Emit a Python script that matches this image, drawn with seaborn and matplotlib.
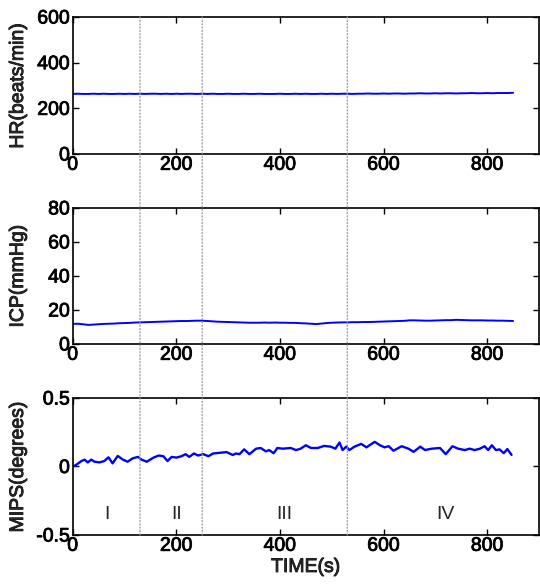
import matplotlib
matplotlib.use("Agg")
import matplotlib.pyplot as plt
from matplotlib.patches import ConnectionPatch
import matplotlib.patheffects as pe
import seaborn as sns
import pandas as pd

# ---------------- data ----------------
time_grid = list(range(0, 851, 10))

hr_values = [263, 264, 263, 263, 264, 263, 264, 263, 263, 264,
             263, 264, 263, 264, 263, 264, 264, 263, 264, 263,
             264, 263, 264, 264, 263, 264, 263, 264, 263, 263,
             264, 263, 263, 264, 263, 263, 264, 263, 263, 263,
             264, 263, 263, 264, 263, 264, 263, 263, 264, 263,
             264, 263, 264, 264, 263, 264, 264, 265, 264, 264,
             265, 264, 265, 265, 264, 265, 265, 266, 265, 265,
             266, 265, 266, 266, 265, 266, 266, 267, 266, 266,
             267, 266, 267, 267, 267, 268]

icp_values = [11.8, 11.9, 11.6, 11.2, 11.4, 11.6, 11.8, 11.9, 12.0, 12.2,
              12.3, 12.4, 12.6, 12.7, 12.8, 12.9, 13.0, 13.1, 13.2, 13.3,
              13.4, 13.5, 13.5, 13.6, 13.7, 13.7, 13.5, 13.3, 13.1, 13.0,
              12.9, 12.8, 12.7, 12.6, 12.5, 12.5, 12.5, 12.6, 12.5, 12.6,
              12.5, 12.5, 12.4, 12.4, 12.2, 12.1, 11.9, 11.7, 12.0, 12.3,
              12.5, 12.6, 12.7, 12.7, 12.8, 12.8, 12.9, 12.9, 13.0, 13.1,
              13.2, 13.3, 13.4, 13.5, 13.6, 13.9, 13.9, 13.8, 13.7, 13.7,
              13.8, 13.9, 14.0, 14.0, 14.2, 14.1, 14.0, 13.9, 13.9, 13.9,
              13.8, 13.8, 13.7, 13.7, 13.6, 13.5]

mips_time = [0, 6, 17, 23, 29, 36, 42, 52, 61, 69,
             77, 87, 97, 106, 116, 126, 133, 143, 156, 166,
             175, 183, 191, 200, 210, 218, 225, 234, 242, 252,
             262, 271, 284, 297, 309, 315, 322, 331, 341, 354,
             363, 373, 379, 388, 395, 405, 421, 431, 440, 450,
             460, 473, 485, 498, 507, 515, 521, 528, 534, 544,
             557, 567, 583, 593, 602, 610, 619, 635, 648, 658,
             671, 680, 693, 709, 720, 733, 744, 757, 766, 776,
             786, 795, 802, 809, 817, 824, 832, 839, 847]
mips_values = [0.0, 0.01, 0.04, 0.05, 0.03, 0.05, 0.035, 0.03, 0.04, 0.067,
               0.023, 0.077, 0.05, 0.035, 0.06, 0.07, 0.05, 0.035, 0.065, 0.08,
               0.075, 0.04, 0.07, 0.065, 0.075, 0.09, 0.07, 0.095, 0.08, 0.09,
               0.075, 0.095, 0.1, 0.105, 0.084, 0.095, 0.09, 0.125, 0.09, 0.13,
               0.135, 0.11, 0.12, 0.097, 0.135, 0.13, 0.135, 0.12, 0.13, 0.155,
               0.135, 0.135, 0.15, 0.145, 0.13, 0.175, 0.12, 0.145, 0.12, 0.145,
               0.165, 0.14, 0.18, 0.155, 0.14, 0.148, 0.115, 0.148, 0.13, 0.107,
               0.145, 0.12, 0.13, 0.135, 0.09, 0.148, 0.13, 0.12, 0.13, 0.12,
               0.13, 0.148, 0.12, 0.155, 0.12, 0.125, 0.097, 0.127, 0.085]

phase_boundaries = [130, 250, 530]
phase_labels = ["I", "II", "III", "IV"]
phase_label_x = [66, 200, 408, 719]
phase_label_y = -0.35

x_ticks = [0, 200, 400, 600, 800]
hr_ticks = [0, 200, 400, 600]
icp_ticks = [0, 20, 40, 60, 80]
mips_ticks = [-0.5, 0, 0.5]
mips_ticklabels = ["-0.5", "0", "0.5"]

# ---------------- style ----------------
sns.set_style("ticks")
plt.rcParams["font.family"] = ["Liberation Sans", "DejaVu Sans"]
plt.rcParams["font.size"] = 14

thick = [pe.withStroke(linewidth=0.6, foreground="black")]

fig = plt.figure(figsize=(5.4, 5.84), dpi=100)
left, width = 0.1346, 0.8635
ax1 = fig.add_axes([left, 0.7363, width, 0.2346])
ax2 = fig.add_axes([left, 0.4110, width, 0.2330])
ax3 = fig.add_axes([left, 0.0839, width, 0.2346])

df_hr = pd.DataFrame({"t": time_grid, "v": hr_values})
df_icp = pd.DataFrame({"t": time_grid, "v": icp_values})
df_mips = pd.DataFrame({"t": mips_time, "v": mips_values})

sns.lineplot(data=df_hr, x="t", y="v", ax=ax1, color="#0000ff", lw=1.4)
sns.lineplot(data=df_icp, x="t", y="v", ax=ax2, color="#0000ff", lw=1.4)
sns.lineplot(data=df_mips, x="t", y="v", ax=ax3, color="#0000ff", lw=1.7)

for ax, ylim, yt, lab in [
    (ax1, (0, 600), hr_ticks, "HR(beats/min)"),
    (ax2, (0, 80), icp_ticks, "ICP(mmHg)"),
    (ax3, (-0.5, 0.5), mips_ticks, "MIPS(degrees)"),
]:
    ax.set_xlim(0, 900)
    ax.set_ylim(*ylim)
    ax.set_xticks(x_ticks)
    ax.set_yticks(yt)
    ax.set_ylabel(lab, fontsize=14, path_effects=thick)
    ax.set_xlabel("")
    ax.tick_params(direction="in", length=4, width=1, pad=2,
                   top=True, right=True, labelsize=14, colors="black")
    for s in ax.spines.values():
        s.set_visible(True)
        s.set_linewidth(1.2)
        s.set_color("black")
    ax.yaxis.set_label_coords(-0.098, 0.5)
    ax.set_facecolor("white")

ax3.set_yticklabels(mips_ticklabels)
ax3.set_xlabel("TIME(s)", fontsize=14, labelpad=3, path_effects=thick)

for ax in (ax1, ax2, ax3):
    for t in ax.get_xticklabels() + ax.get_yticklabels():
        t.set_path_effects(thick)

for xb in phase_boundaries:
    con = ConnectionPatch(xyA=(xb, 600), coordsA="data", axesA=ax1,
                          xyB=(xb, -0.5), coordsB="data", axesB=ax3,
                          color="#999999", linestyle=":", lw=0.9, zorder=5)
    fig.add_artist(con)

for lbl, xp in zip(phase_labels, phase_label_x):
    ax3.text(xp, phase_label_y, lbl, ha="center", va="center", fontsize=14)

fig.savefig("out.png", dpi=100, facecolor="white")
